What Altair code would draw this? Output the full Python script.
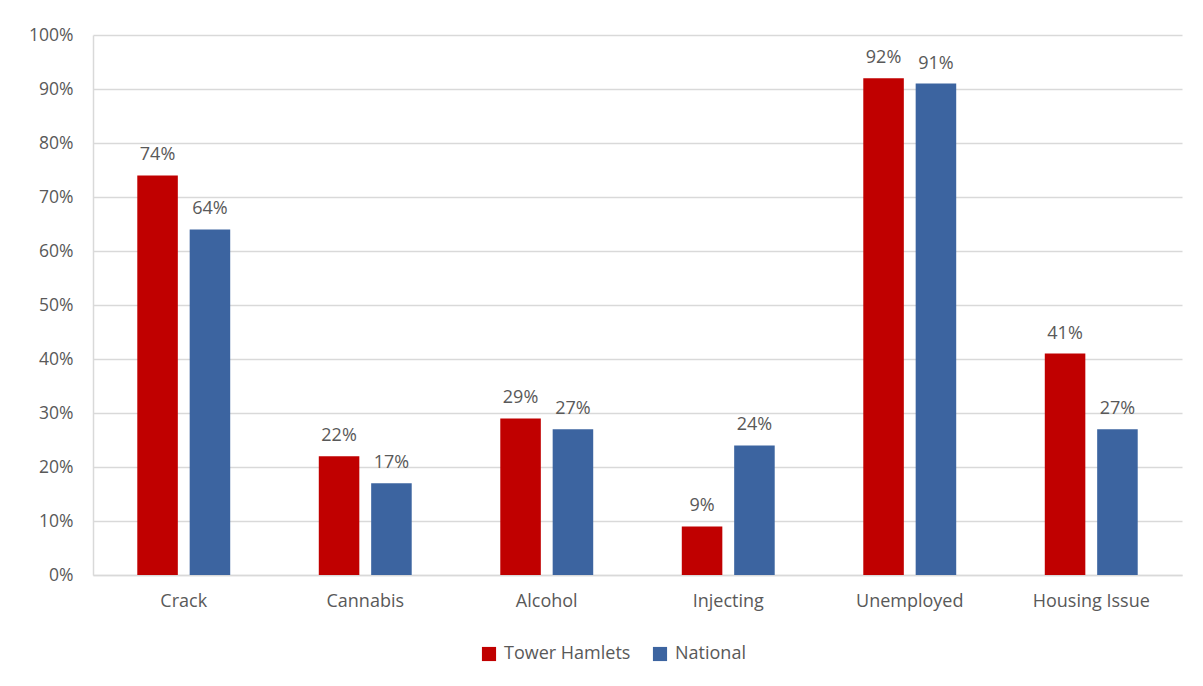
import altair as alt
import pandas as pd

categories = ["Crack", "Cannabis", "Alcohol", "Injecting", "Unemployed", "Housing Issue"]
series = ["Tower Hamlets", "National"]
tower_hamlets = [0.74, 0.22, 0.29, 0.09, 0.92, 0.41]
national = [0.64, 0.17, 0.27, 0.24, 0.91, 0.27]
colors = ["#C00000", "#3C64A0"]

rows = []
for c, a, b in zip(categories, tower_hamlets, national):
    rows.append({"category": c, "series": series[0], "value": a})
    rows.append({"category": c, "series": series[1], "value": b})
df = pd.DataFrame(rows)

FONT = "Open Sans"
GRAY = "#595959"

x = alt.X("category:N", sort=categories, title=None,
          scale=alt.Scale(paddingInner=0.488, paddingOuter=0.244),
          axis=alt.Axis(labelAngle=0, labelFontSize=18, labelColor=GRAY, labelPadding=17,
                        ticks=False, domainColor="#D9D9D9", domainWidth=1.5, labelFont=FONT))
xo = alt.XOffset("series:N", sort=series, scale=alt.Scale(paddingInner=0.226, paddingOuter=0))
y = alt.Y("value:Q", title=None,
          scale=alt.Scale(domain=[0, 1], nice=False),
          axis=alt.Axis(format=".0%", values=[i / 10 for i in range(11)], labelFontSize=17.5,
                        labelColor=GRAY, labelPadding=20, ticks=False, domain=True,
                        domainColor="#D9D9D9", domainWidth=1.5, gridColor="#D9D9D9",
                        gridWidth=1.5, labelFont=FONT))

base = alt.Chart(df).encode(x=x, xOffset=xo, y=y)

bars = base.mark_bar().encode(
    color=alt.Color("series:N", sort=series,
                    scale=alt.Scale(domain=series, range=colors),
                    legend=alt.Legend(title=None, orient="none", legendX=387, legendY=610,
                                      direction="horizontal", symbolType="square",
                                      symbolSize=200, labelFontSize=18, labelColor=GRAY,
                                      labelFont=FONT, columnPadding=20, symbolStrokeWidth=0,
                                      labelOffset=6))
)

labels = base.mark_text(baseline="bottom", dy=-11, fontSize=18, color=GRAY, font=FONT).encode(
    text=alt.Text("value:Q", format=".0%")
)

chart = (bars + labels).properties(
    width=1089, height=540,
    autosize=alt.AutoSizeParams(type="none"),
    padding={"left": 85, "top": 27, "right": 5, "bottom": 100},
).configure_view(stroke=None)

chart.save("out.html", embed_options={"renderer": "svg", "actions": False})
